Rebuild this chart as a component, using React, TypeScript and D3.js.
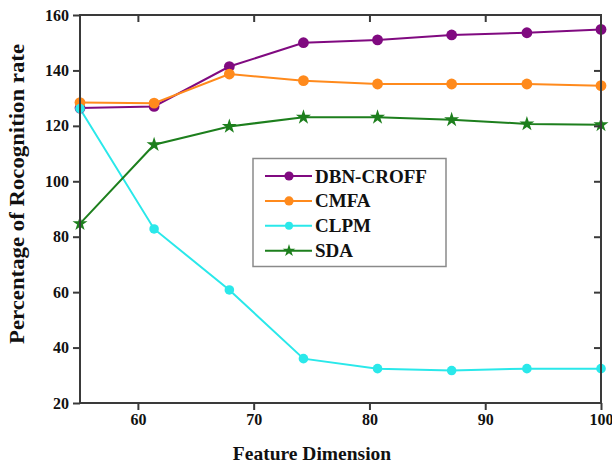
import React, { useEffect, useRef } from 'react';
import * as d3 from 'd3';

// feature dimension values (x)
const dims = [55, 61.4, 67.9, 74.3, 80.7, 87.1, 93.6, 100];
const dbnCroff = [126.4, 127.0, 141.4, 150.0, 151.0, 152.8, 153.6, 154.8];
const cmfa = [128.4, 128.2, 138.7, 136.3, 135.1, 135.1, 135.1, 134.5];
const clpm = [126.2, 82.8, 60.8, 36.0, 32.4, 31.7, 32.4, 32.4];
const sda = [84.7, 113.2, 119.8, 123.1, 123.1, 122.2, 120.7, 120.4];
const xTicks = [60, 70, 80, 90, 100];
const yTicks = [20, 40, 60, 80, 100, 120, 140, 160];

const seriesNames = ['DBN-CROFF', 'CMFA', 'CLPM', 'SDA'];
const seriesColors = ['#800a80', '#ff8a1c', '#2ae8ea', '#1d7f1d'];
const seriesMarkers = ['circle', 'circle', 'smallCircle', 'star'];

const App = () => {
  const svgRef = useRef<SVGSVGElement>(null);

  useEffect(() => {
    const svg = d3.select(svgRef.current);
    svg.selectAll('*').remove();
    const width = 612;
    const height = 467;
    svg.attr('width', width).attr('height', height);

    const left = 80, right = 601, top = 15, bottom = 403;
    const font = '"Liberation Serif", "Times New Roman", serif';
    const axisColor = '#3a3a3a';

    const x = d3.scaleLinear().domain([55, 100]).range([left, right]);
    const y = d3.scaleLinear().domain([20, 160]).range([bottom, top]);

    // lines + markers
    const allSeries = [dbnCroff, cmfa, clpm, sda];
    const line = d3.line<number>()
      .x((_, i) => x(dims[i]))
      .y(d => y(d));

    const drawMarker = (g: any, kind: string, cx: number, cy: number, color: string, small = false) => {
      if (kind === 'star') {
        g.append('path')
          .attr('d', d3.symbol().type(d3.symbolStar).size(small ? 50 : 70)())
          .attr('transform', `translate(${cx},${cy})`)
          .attr('fill', color);
      } else {
        g.append('circle')
          .attr('cx', cx)
          .attr('cy', cy)
          .attr('r', (kind === 'smallCircle' ? 4.8 : 5.4) - (small ? 0.8 : 0))
          .attr('fill', color);
      }
    };

    const plot = svg.append('g');
    allSeries.forEach((vals, s) => {
      plot.append('path')
        .datum(vals)
        .attr('d', line)
        .attr('fill', 'none')
        .attr('stroke', seriesColors[s])
        .attr('stroke-width', 2);
    });
    allSeries.forEach((vals, s) => {
      vals.forEach((v, i) => drawMarker(plot, seriesMarkers[s], x(dims[i]), y(v), seriesColors[s]));
    });

    // frame
    const frame = svg.append('g').attr('stroke', axisColor).attr('stroke-width', 2).attr('fill', 'none');
    frame.append('rect')
      .attr('x', left).attr('y', top)
      .attr('width', right - left).attr('height', bottom - top);

    // bottom axis
    const xAxis = svg.append('g')
      .attr('transform', `translate(0, ${bottom})`)
      .call(d3.axisBottom(x).tickValues(xTicks).tickSize(7).tickPadding(4).tickFormat(d3.format('d')));
    xAxis.select('.domain').remove();
    xAxis.selectAll('line').attr('stroke', axisColor).attr('stroke-width', 2);
    xAxis.selectAll('text')
      .attr('fill', '#111')
      .style('font-family', font)
      .style('font-weight', 'bold')
      .style('font-size', '16px');

    // top mirror ticks (inward)
    svg.append('g')
      .attr('transform', `translate(0, ${top})`)
      .call(d3.axisBottom(x).tickValues(xTicks.filter(t => t < 100)).tickSize(7).tickFormat(() => ''))
      .call(g => g.select('.domain').remove())
      .selectAll('line').attr('stroke', axisColor).attr('stroke-width', 2);

    // left axis
    const yAxis = svg.append('g')
      .attr('transform', `translate(${left}, 0)`)
      .call(d3.axisLeft(y).tickValues(yTicks).tickSize(7).tickPadding(4));
    yAxis.select('.domain').remove();
    yAxis.selectAll('line').attr('stroke', axisColor).attr('stroke-width', 2);
    yAxis.selectAll('text')
      .attr('fill', '#111')
      .style('font-family', font)
      .style('font-weight', 'bold')
      .style('font-size', '16px');

    // right mirror ticks (inward)
    svg.append('g')
      .attr('transform', `translate(${right}, 0)`)
      .call(d3.axisLeft(y).tickValues(yTicks.filter(t => t > 20 && t < 160)).tickSize(7).tickFormat(() => ''))
      .call(g => g.select('.domain').remove())
      .selectAll('line').attr('stroke', axisColor).attr('stroke-width', 2);

    // axis titles
    svg.append('text')
      .attr('x', 312).attr('y', 460)
      .attr('text-anchor', 'middle')
      .style('font-family', font).style('font-weight', 'bold').style('font-size', '19.5px')
      .attr('fill', '#111')
      .text('Feature Dimension');

    svg.append('text')
      .attr('transform', 'translate(24, 194) rotate(-90)')
      .attr('text-anchor', 'middle')
      .attr('textLength', 300)
      .attr('lengthAdjust', 'spacingAndGlyphs')
      .style('font-family', font).style('font-weight', 'bold').style('font-size', '21px')
      .attr('fill', '#111')
      .text('Percentage of Rocognition rate');

    // legend
    const legend = svg.append('g');
    legend.append('rect')
      .attr('x', 253).attr('y', 158.5)
      .attr('width', 193).attr('height', 108)
      .attr('fill', '#fff')
      .attr('stroke', '#8a8a8a')
      .attr('stroke-width', 1.5);
    seriesNames.forEach((name, i) => {
      const ry = 176 + i * 24.9;
      legend.append('line')
        .attr('x1', 265).attr('x2', 312)
        .attr('y1', ry).attr('y2', ry)
        .attr('stroke', seriesColors[i]).attr('stroke-width', 2);
      drawMarker(legend, seriesMarkers[i], 289, ry, seriesColors[i], true);
      legend.append('text')
        .attr('x', 315).attr('y', ry + 6.5)
        .style('font-family', font).style('font-weight', 'bold').style('font-size', '19px')
        .attr('fill', '#111')
        .text(name);
    });
  }, []);

  return <svg ref={svgRef} style={{ position: 'absolute', left: 0, top: 0, background: '#fff' }}></svg>;
};

export default App;
